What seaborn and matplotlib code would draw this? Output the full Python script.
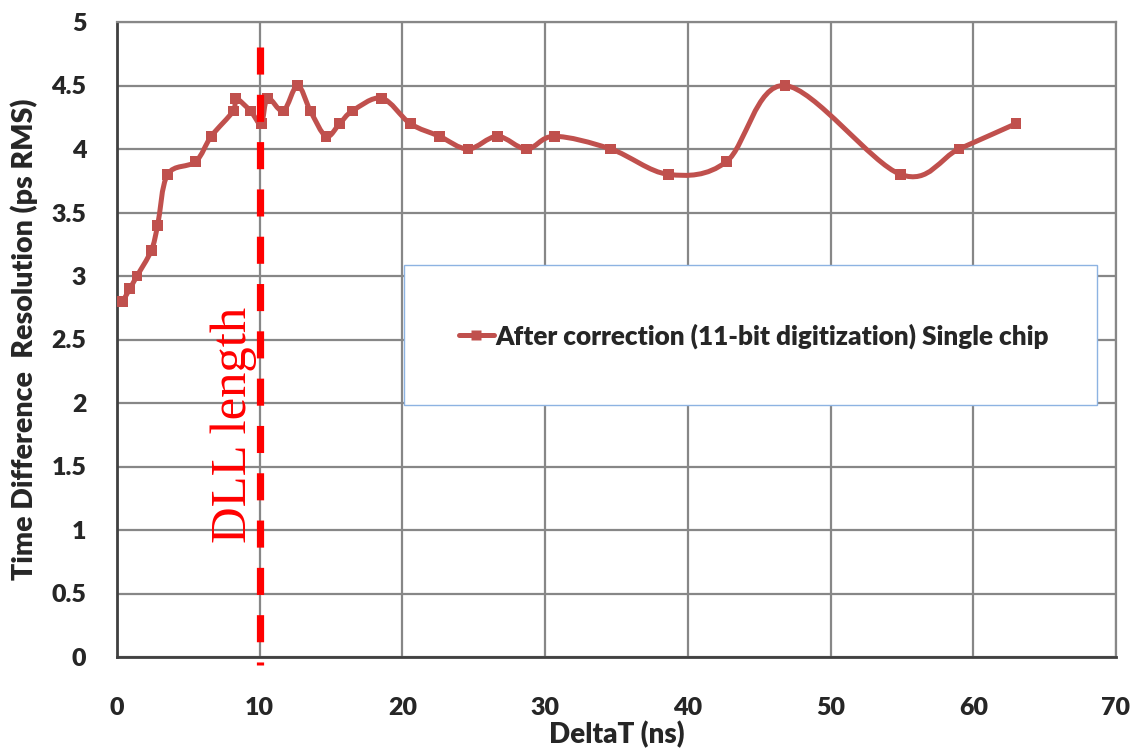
import matplotlib
matplotlib.use("Agg")
import matplotlib.pyplot as plt
import seaborn as sns
import numpy as np
import pandas as pd
from matplotlib.path import Path
from matplotlib.patches import PathPatch, Rectangle
from matplotlib.lines import Line2D

# ---- data ----
delta_t = [0.4, 0.9, 1.4, 2.4, 2.85, 3.55, 5.5, 6.6, 8.15, 8.3, 9.35, 10.1, 10.55,
           11.65, 12.65, 13.55, 14.65, 15.6, 16.5, 18.55, 20.55, 22.6, 24.6, 26.65,
           28.7, 30.65, 34.6, 38.65, 42.7, 46.8, 54.9, 59.0, 63.0]
resolution = [2.8, 2.9, 3.0, 3.2, 3.4, 3.8, 3.9, 4.1, 4.3, 4.4, 4.3, 4.2, 4.4,
              4.3, 4.5, 4.3, 4.1, 4.2, 4.3, 4.4, 4.2, 4.1, 4.0, 4.1,
              4.0, 4.1, 4.0, 3.8, 3.9, 4.5, 3.8, 4.0, 4.2]
series_label = "After correction (11-bit digitization) Single chip"
dll_x = 10
x_ticks = [0, 10, 20, 30, 40, 50, 60, 70]
y_ticks = [0, 0.5, 1, 1.5, 2, 2.5, 3, 3.5, 4, 4.5, 5]
y_tick_labels = ["0", "0.5", "1", "1.5", "2", "2.5", "3", "3.5", "4", "4.5", "5"]

df = pd.DataFrame({"DeltaT": delta_t, "Res": resolution})

sns.set_style("white")
plt.rcParams["font.family"] = ["Lato", "DejaVu Sans"]
W = "heavy"

LINE_C = "#C0504D"
GRID_C = "#878787"

fig = plt.figure(figsize=(11.34, 7.54), dpi=100)
ax = fig.add_axes([117/1134, 1 - 657/754, (1116-117)/1134, (657-22)/754])

ax.set_xlim(0, 70)
ax.set_ylim(0, 5)
ax.set_xticks(x_ticks)
ax.set_yticks(y_ticks)
ax.set_yticklabels(y_tick_labels)
ax.grid(True, color=GRID_C, lw=1.6, zorder=0)
ax.set_axisbelow(True)
for s in ["top", "right"]:
    ax.spines[s].set_color(GRID_C)
    ax.spines[s].set_linewidth(1.6)
for s in ["left", "bottom"]:
    ax.spines[s].set_color("#404040")
    ax.spines[s].set_linewidth(2)
ax.tick_params(axis="y", length=7, width=1, color="#A0A0A0", direction="out",
               labelsize=18, pad=15)
ax.tick_params(axis="x", length=0, labelsize=18, pad=29)
for lab in ax.get_xticklabels() + ax.get_yticklabels():
    lab.set_fontweight(W)

# smoothed line (Bezier through points, like Excel's smoothed line)
xs = np.array(delta_t, float)
ys = np.array(resolution, float)
P = np.column_stack([xs, ys])
n = len(P)
verts = [P[0]]
codes = [Path.MOVETO]
for i in range(n - 1):
    p0 = P[i - 1] if i > 0 else P[i]
    p1 = P[i]
    p2 = P[i + 1]
    p3 = P[i + 2] if i + 2 < n else P[i + 1]
    c1 = p1 + (p2 - p0) / 6.0
    c2 = p2 - (p3 - p1) / 6.0
    verts += [c1, c2, p2]
    codes += [Path.CURVE4] * 3
patch = PathPatch(Path(verts, codes), facecolor="none", edgecolor=LINE_C,
                  lw=3.6, transform=ax.transData, zorder=3, capstyle="round",
                  joinstyle="round")
ax.add_patch(patch)
sns.scatterplot(data=df, x="DeltaT", y="Res", marker="s", s=60, color=LINE_C,
                edgecolor="none", ax=ax, zorder=4, legend=False)

# DLL length marker (drawn top-down so the dash pattern starts at the top)
ax.plot([dll_x, dll_x], [4.8, -0.06], color="#FF0000", lw=5.2,
        linestyle=(0, (3.75, 2.8)), zorder=5, clip_on=False)
ax.text(8.15, 1.83, "DLL length", rotation=90, color="#FF0000",
        fontsize=36.5, family=["Liberation Serif", "DejaVu Serif"],
        fontweight="normal", ha="center", va="center", zorder=6)

ax.set_xlabel("DeltaT (ns)", fontsize=20, fontweight=W, labelpad=1)
ax.set_ylabel("Time Difference  Resolution (ps RMS)", fontsize=20.5,
              fontweight=W, labelpad=10)

# legend box
ax.add_patch(Rectangle((0.2873, 0.397), 0.6937, 0.220, transform=ax.transAxes,
                       facecolor="white", edgecolor="#8DB3E2", lw=1, zorder=7))
handle = Line2D([], [], color=LINE_C, lw=3.6, marker="s", markersize=7.5,
                markeredgecolor="none")
leg = ax.legend([handle], [series_label], loc="center left",
                bbox_to_anchor=(0.342, 0.5055), frameon=False,
                handlelength=1.35, handletextpad=0.05, borderpad=0,
                borderaxespad=0, prop={"weight": W, "size": 18.8})
leg.set_zorder(8)

fig.savefig("out.png", dpi=100)
